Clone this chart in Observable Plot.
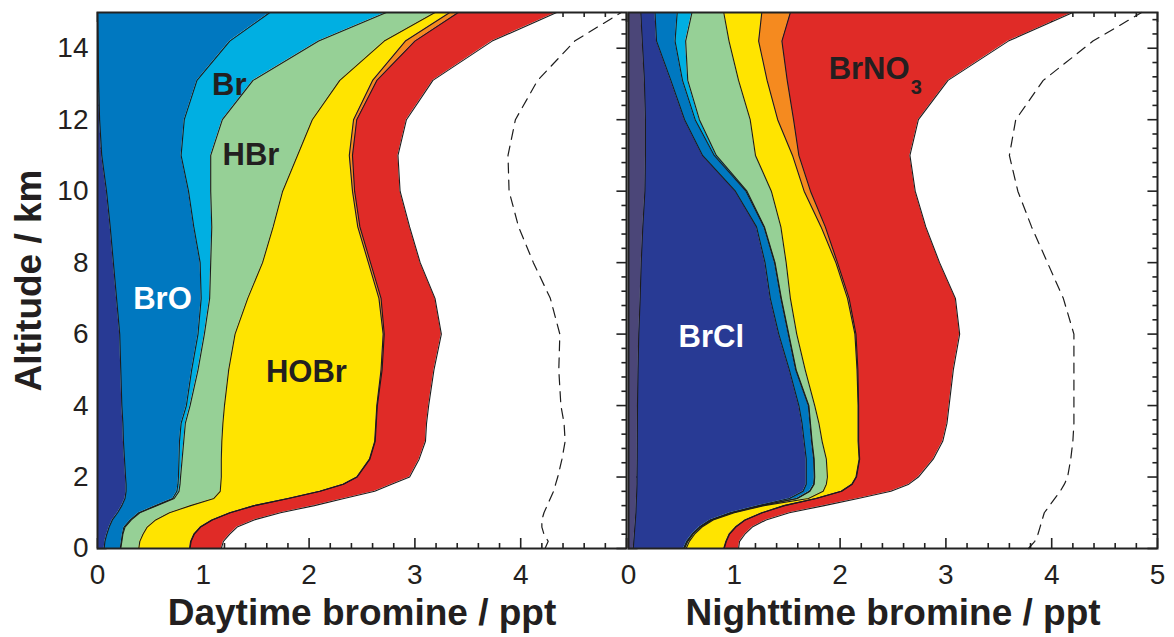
<!DOCTYPE html>
<html><head><meta charset="utf-8">
<script src="https://cdn.jsdelivr.net/npm/d3@7"></script>
<script src="https://cdn.jsdelivr.net/npm/@observablehq/plot@0.6"></script>
<style>
html,body{margin:0;padding:0;background:#fff;}
#chart{width:1174px;height:637px;}
</style></head><body><div id="chart"></div>
<script>
// ---------------- data ----------------
const altitude = [0,0.2,0.4,0.6,0.8,1,1.2,1.4,1.6,1.8,2,2.5,3,3.5,4,5,6,7,8,9,10,11,12,13.1,14.2,15];

// Daytime: cumulative (stacked) outer edge of each species, ppt
const dayBrCl  = [0.063,0.07,0.088,0.11,0.14,0.19,0.23,0.26,0.27,0.27,0.265,0.255,0.245,0.24,0.23,0.22,0.21,0.18,0.15,0.12,0.085,0.04,0.02,0.01,0.005,0.0];
const dayBrO   = [0.215,0.225,0.235,0.25,0.31,0.39,0.55,0.71,0.75,0.76,0.765,0.77,0.775,0.79,0.84,0.89,0.95,0.98,0.97,0.91,0.86,0.79,0.82,0.94,1.25,1.63];
const dayBr    = [0.22,0.23,0.24,0.26,0.32,0.40,0.56,0.725,0.77,0.78,0.785,0.80,0.815,0.83,0.875,0.95,1.01,1.06,1.07,1.08,1.07,1.07,1.18,1.47,2.09,2.73];
const dayHBr   = [0.39,0.40,0.43,0.47,0.55,0.68,0.88,1.10,1.16,1.165,1.17,1.17,1.175,1.185,1.20,1.24,1.30,1.42,1.56,1.66,1.75,1.89,2.03,2.29,2.71,3.19];
const dayHOBr  = [0.87,0.88,0.91,0.97,1.08,1.25,1.48,1.80,2.10,2.32,2.45,2.57,2.62,2.63,2.64,2.68,2.70,2.66,2.56,2.46,2.41,2.38,2.42,2.60,2.91,3.33];
const dayBrNO2 = [0.875,0.885,0.915,0.975,1.085,1.255,1.485,1.805,2.105,2.325,2.455,2.575,2.625,2.635,2.645,2.69,2.71,2.68,2.58,2.48,2.43,2.41,2.45,2.64,3.00,3.41];
const dayBrNO3 = [1.17,1.19,1.25,1.32,1.48,1.73,2.05,2.33,2.62,2.78,2.95,3.04,3.10,3.11,3.13,3.18,3.25,3.19,3.05,2.95,2.86,2.84,2.92,3.17,3.73,4.34];
const dayTotal = [4.23,4.26,4.22,4.20,4.20,4.22,4.25,4.28,4.31,4.33,4.35,4.39,4.42,4.41,4.38,4.36,4.37,4.28,4.12,3.98,3.89,3.88,3.95,4.16,4.51,4.95];

// Nighttime: cumulative outer edge of each species, ppt
const nightBr2   = [0.045,0.05,0.055,0.06,0.065,0.07,0.072,0.075,0.078,0.08,0.08,0.082,0.083,0.084,0.085,0.09,0.097,0.11,0.12,0.135,0.155,0.16,0.16,0.15,0.13,0.116];
const nightBrCl  = [0.52,0.55,0.60,0.67,0.77,0.96,1.23,1.52,1.65,1.68,1.68,1.68,1.66,1.64,1.61,1.52,1.42,1.34,1.29,1.21,1.01,0.70,0.53,0.40,0.265,0.25];
const nightBrO   = [0.525,0.555,0.605,0.675,0.78,0.975,1.25,1.59,1.71,1.75,1.755,1.75,1.73,1.715,1.70,1.58,1.51,1.44,1.38,1.28,1.11,0.81,0.63,0.51,0.44,0.46];
const nightBr    = [0.53,0.56,0.61,0.68,0.785,0.98,1.255,1.595,1.715,1.755,1.76,1.755,1.735,1.72,1.705,1.585,1.515,1.445,1.385,1.285,1.12,0.83,0.67,0.56,0.54,0.60];
const nightHBr   = [0.545,0.575,0.625,0.695,0.80,1.00,1.28,1.70,1.84,1.87,1.88,1.87,1.83,1.80,1.76,1.67,1.59,1.53,1.49,1.44,1.35,1.20,1.15,1.04,0.95,0.90];
const nightHOBr  = [0.90,0.92,0.95,1.01,1.10,1.26,1.47,1.77,2.01,2.11,2.15,2.18,2.17,2.17,2.17,2.16,2.14,2.07,1.96,1.82,1.66,1.55,1.41,1.31,1.23,1.26];
const nightBrNO2 = [0.905,0.925,0.955,1.015,1.105,1.265,1.475,1.775,2.015,2.115,2.155,2.185,2.175,2.175,2.175,2.168,2.15,2.085,1.975,1.86,1.72,1.61,1.56,1.50,1.45,1.53];
const nightBrNO3 = [1.04,1.05,1.10,1.17,1.30,1.52,1.85,2.17,2.48,2.65,2.74,2.88,2.97,3.01,3.03,3.07,3.13,3.09,2.94,2.81,2.71,2.66,2.74,3.02,3.59,4.20];
const nightTotal = [3.78,3.84,3.87,3.89,3.91,3.93,3.98,4.03,4.08,4.12,4.15,4.18,4.20,4.21,4.21,4.21,4.21,4.11,3.96,3.81,3.68,3.60,3.66,3.92,4.39,4.85];

const species = ["Br2","BrCl","BrO","Br","HBr","HOBr","BrNO2","BrNO3"];
const speciesColors = ["#4b4678","#283a94","#0078c0","#00afe2","#96d096","#ffe400","#f58a1f","#e02b27"];

const panels = ["day","night"];
const xTitles = ["Daytime bromine / ppt","Nighttime bromine / ppt"];
const dayXTicks = [0,1,2,3,4];
const nightXTicks = [0,1,2,3,4,5];
const yTicks = [0,2,4,6,8,10,12,14];

// in-plot species labels
const labelText  = ["BrO","Br","HBr","HOBr","BrCl","BrNO"];
const labelPanel = ["day","day","day","day","night","night"];
const labelX     = [0.614,1.246,1.45,1.974,0.783,1.892];
const labelY     = [6.97,12.96,11.0,4.94,5.93,13.41];
const labelLight = [true,false,false,false,true,false];

// ---------------- build tables ----------------
function layerRows(panel, layers) {
  const rows = [];
  layers.forEach(([name, tops], k) => {
    const lows = k === 0 ? null : layers[k - 1][1];
    altitude.forEach((a, i) => rows.push({panel, species: name, alt: a, lo: lows ? lows[i] : 0, hi: tops[i]}));
  });
  return rows;
}
const layers = [
  ...layerRows("day", [["BrCl",dayBrCl],["BrO",dayBrO],["Br",dayBr],["HBr",dayHBr],["HOBr",dayHOBr],["BrNO2",dayBrNO2],["BrNO3",dayBrNO3]]),
  ...layerRows("night", [["Br2",nightBr2],["BrCl",nightBrCl],["BrO",nightBrO],["Br",nightBr],["HBr",nightHBr],["HOBr",nightHOBr],["BrNO2",nightBrNO2],["BrNO3",nightBrNO3]])
];
const totals = [
  ...altitude.map((a, i) => ({panel: "day", alt: a, v: dayTotal[i]})),
  ...altitude.map((a, i) => ({panel: "night", alt: a, v: nightTotal[i]}))
];
const xTickLabels = [
  ...dayXTicks.map(v => ({panel: "day", v})),
  ...nightXTicks.map(v => ({panel: "night", v}))
];
const labels = labelText.map((t, i) => ({t, panel: labelPanel[i], x: labelX[i], y: labelY[i], light: labelLight[i]}));

// ---------------- layout ----------------
const W = 1174, H = 637, mL = 96, mR = 17, mT = 12, mB = 89;
const gap = 0.004;
const frameH = H - mT - mB;
const bw = (W - mL - mR) / (2 - gap) * (1 - gap);
const majLen = 10, minLen = 5;
const xMajor = d3.range(0, 5.001, 1);
const xMinor = d3.range(0, 5.001, 0.2).filter(v => Math.abs(v - Math.round(v)) > 1e-6);
const yMajor = d3.range(0, 15.001, 2);
const yMinor = d3.range(0.4, 15.001, 0.4).filter(v => Math.abs(v / 2 - Math.round(v / 2)) > 1e-6);
const tk = {stroke: "#222", strokeWidth: 1.6};
const ink = "#231f20";

const chart = Plot.plot({
  width: W, height: H,
  marginLeft: mL, marginRight: mR, marginTop: mT, marginBottom: mB,
  style: {fontFamily: "'Liberation Sans', Arial, Helvetica, sans-serif", background: "#fff", color: ink},
  fx: {domain: panels, paddingInner: gap, paddingOuter: 0, axis: null},
  x: {domain: [0, 5], axis: null},
  y: {domain: [0, 15], axis: null},
  color: {domain: species, range: speciesColors},
  marks: [
    // inward ticks on all four sides
    Plot.ruleX(xMajor, {x: d => d, insetTop: frameH - majLen, ...tk}),
    Plot.ruleX(xMinor, {x: d => d, insetTop: frameH - minLen, ...tk}),
    Plot.ruleX(xMajor, {x: d => d, insetBottom: frameH - majLen, ...tk}),
    Plot.ruleX(xMinor, {x: d => d, insetBottom: frameH - minLen, ...tk}),
    Plot.ruleY(yMajor, {y: d => d, insetRight: bw - majLen, ...tk}),
    Plot.ruleY(yMinor, {y: d => d, insetRight: bw - minLen, ...tk}),
    Plot.ruleY(yMajor, {y: d => d, insetLeft: bw - majLen, ...tk}),
    Plot.ruleY(yMinor, {y: d => d, insetLeft: bw - minLen, ...tk}),
    // stacked species
    Plot.areaX(layers, {fx: "panel", y: "alt", x1: "lo", x2: "hi", fill: "species", z: "species"}),
    Plot.lineX(layers, {fx: "panel", y: "alt", x: "hi", z: "species", stroke: "#1c1c1c", strokeWidth: 1.1}),
    // total (dashed)
    Plot.lineX(totals, {fx: "panel", y: "alt", x: "v", z: "panel", stroke: "#1c1c1c", strokeWidth: 1.2, strokeDasharray: "10,7"}),
    Plot.frame({stroke: "#222", strokeWidth: 2}),
    // tick labels
    Plot.text(xTickLabels, {fx: "panel", x: "v", text: d => String(d.v), frameAnchor: "bottom", lineAnchor: "middle", dy: 27, fontSize: 28, fill: ink}),
    Plot.text(yTicks, {fx: () => "day", y: d => d, text: d => String(d), frameAnchor: "left", textAnchor: "end", lineAnchor: "middle", dx: -9, fontSize: 28, fill: ink}),
    // axis titles
    Plot.text(panels.map((p, i) => ({p, t: xTitles[i]})), {fx: "p", text: "t", frameAnchor: "bottom", lineAnchor: "middle", textAnchor: "middle", dy: 65, fontSize: 37, fontWeight: "bold", fill: ink}),
    Plot.text(["Altitude / km"], {fx: () => "day", text: d => d, frameAnchor: "left", textAnchor: "middle", lineAnchor: "middle", rotate: -90, dx: -68, fontSize: 37, fontWeight: "bold", fill: ink}),
    // species labels
    Plot.text(labels.filter(d => d.t !== "BrNO"), {fx: "panel", x: "x", y: "y", text: "t", fontSize: 31, fontWeight: "bold", fill: d => d.light ? "#ffffff" : ink}),
    Plot.text(labels.filter(d => d.t === "BrNO"), {fx: "panel", x: "x", y: "y", text: "t", textAnchor: "start", fontSize: 31, fontWeight: "bold", fill: ink}),
    Plot.text(labels.filter(d => d.t === "BrNO"), {fx: "panel", x: "x", y: "y", text: () => "3", textAnchor: "start", dx: 82, dy: 18, fontSize: 20, fontWeight: "bold", fill: ink})
  ]
});
document.getElementById("chart").appendChild(chart);
</script>
</body></html>
